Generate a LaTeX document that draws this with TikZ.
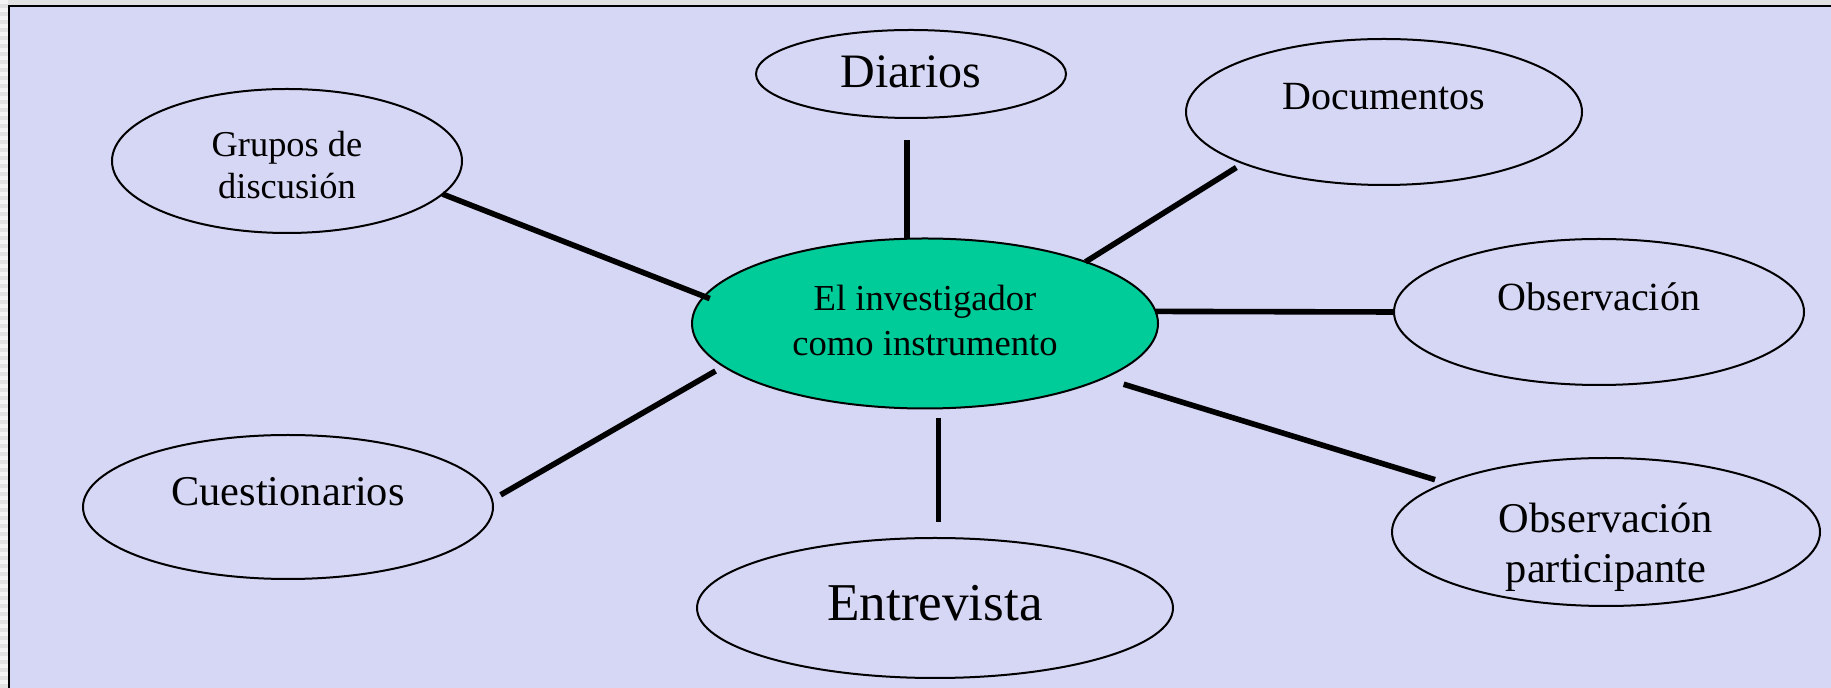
\documentclass[tikz,border=0pt]{standalone}
\usepackage{fontspec}
\setmainfont{Liberation Serif}
\usetikzlibrary{shapes.geometric}
\definecolor{slidebg}{HTML}{D6D6F5}
\definecolor{hubgreen}{HTML}{00CC99}
\definecolor{edgegray}{HTML}{E2E2E2}
\tikzset{
  oval/.style={draw, ellipse, fill=slidebg, line width=1pt, inner sep=0pt, outer sep=0pt},
  hub/.style={oval, fill=hubgreen},
  spoke/.style={line width=2.8pt},
  txt/.style={align=center, inner sep=0pt},
}

\begin{document}
\begin{tikzpicture}[x=0.5pt, y=-0.5pt]
  \useasboundingbox (0,0) rectangle (1831,688);

  %% slide frame
  \fill[edgegray] (-10,-10) rectangle (1850,700);
  \foreach \y in {0,8,...,680}
    \fill[white!60!edgegray] (-10,\y) rectangle (8,\y+4);
  \fill[slidebg] (9,6) rectangle (1850,700);
  \draw[line width=1.4pt] (9,700) -- (9,6) -- (1850,6);

  %% ovals
  \node[hub, minimum width=233pt, minimum height=85pt] (hub) at (925,323.5) {};
  \node[oval, minimum width=155pt, minimum height=44pt] (dia) at (911,74) {};
  \node[oval, minimum width=198pt, minimum height=73pt] (doc) at (1384,112) {};
  \node[oval, minimum width=175pt, minimum height=72pt] (grp) at (287,161) {};
  \node[oval, minimum width=205pt, minimum height=73pt] (obs) at (1599,312) {};
  \node[oval, minimum width=205pt, minimum height=72pt] (cue) at (288,507) {};
  \node[oval, minimum width=238pt, minimum height=70pt] (ent) at (935,608) {};
  \node[oval, minimum width=214pt, minimum height=74pt] (obp) at (1606,532) {};

  %% texts
  \node[txt, font=\fontsize{18.3}{22.5}\selectfont] (hub-t) at ([yshift=1.7pt]hub)
    {El investigador\\como instrumento};
  \node[txt, font=\fontsize{24}{29}\selectfont] (dia-t) at ([yshift=1pt]dia) {Diarios};
  \node[txt, font=\fontsize{20}{24}\selectfont] (doc-t) at ([yshift=7.5pt]doc) {Documentos};
  \node[txt, font=\fontsize{18.2}{21}\selectfont] (grp-t) at ([yshift=-2.2pt]grp)
    {Grupos de\\discusión};
  \node[txt, font=\fontsize{20}{24}\selectfont] (obs-t) at ([yshift=7.5pt]obs) {Observación};
  \node[txt, font=\fontsize{21.2}{25}\selectfont] (cue-t) at ([yshift=7.5pt]cue) {Cuestionarios};
  \node[txt, font=\fontsize{26.6}{32}\selectfont] (ent-t) at ([yshift=2.5pt]ent) {Entrevista};
  \node[txt, font=\fontsize{21.2}{25}\selectfont] (obp-t) at ([yshift=-7.5pt]obp)
    {Observación\\participante};

  %% spokes
  \draw[spoke, shorten >=-3pt] (grp.-12) -- (hub.173);
  \draw[spoke, shorten >=11pt] (hub.102) -- (hub.102 |- dia.south);
  \draw[spoke, shorten <=4pt] (doc.200) -- (hub.21);
  \draw[spoke] (hub.3) -- (obs.west);
  \draw[spoke, shorten <=4.7pt, shorten >=5pt] (hub.192.5) -- (cue.2);
  \draw[spoke, shorten <=4.8pt, shorten >=8pt] (hub.-81) -- (hub.-81 |- ent.north);
  \draw[spoke, shorten <=10.5pt, shorten >=5.6pt] (hub.-17.4) -- (obp.163.7);

\end{tikzpicture}
\end{document}
